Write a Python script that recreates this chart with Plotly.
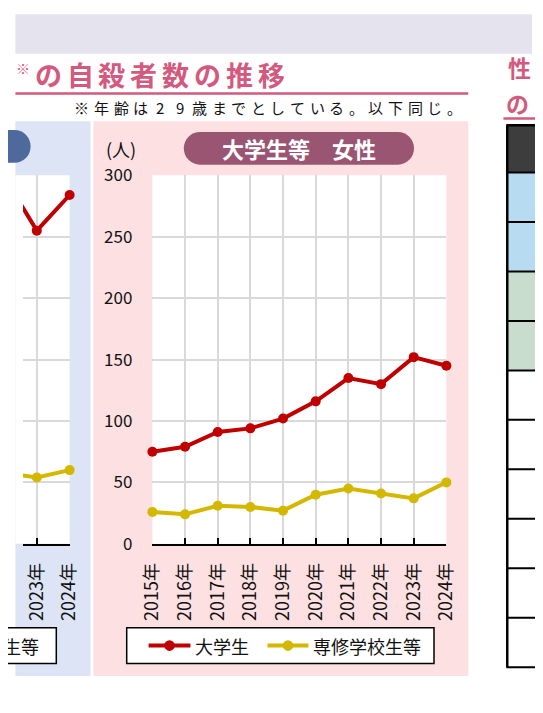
import plotly.graph_objects as go

# the page puts the figure 8px in from the top-left corner of the window
OFF = 8
W, H = 543 - OFF, 713 - OFF

# data
years = ["2015年", "2016年", "2017年", "2018年", "2019年",
         "2020年", "2021年", "2022年", "2023年", "2024年"]
univ_female = [75, 79, 91, 94, 102, 116, 135, 130, 152, 145]
vocational_female = [26, 24, 31, 30, 27, 40, 45, 41, 37, 50]

# the male panel is cut off on the left, only its last years show
years_male = ["2022年", "2023年", "2024年"]
univ_male = [299, 255, 284]
vocational_male = [58, 54, 60]

y_ticks = [0, 50, 100, 150, 200, 250, 300]
series_names = ["大学生", "専修学校生等"]

RED = "#c00000"
YELLOW = "#d4b800"
PINK = "#d35a7e"
GRID = "#d9d9d9"
FONT = "Noto Sans CJK JP"


# window pixels -> paper coords
def px(x):
    return (x - OFF) / W


def py(y):
    return 1 - (y - OFF) / H


def pill_path(x0, x1, y0, y1):
    # rounded bar
    r = (y1 - y0) / 2
    yc = (y0 + y1) / 2
    k = 0.5523 * r
    pts = [
        ("M", [(x0 + r, y0)]),
        ("L", [(x1 - r, y0)]),
        ("C", [(x1 - r + k, y0), (x1, yc - k), (x1, yc)]),
        ("C", [(x1, yc + k), (x1 - r + k, y1), (x1 - r, y1)]),
        ("L", [(x0 + r, y1)]),
        ("C", [(x0 + r - k, y1), (x0, yc + k), (x0, yc)]),
        ("C", [(x0, yc - k), (x0 + r - k, y0), (x0 + r, y0)]),
    ]
    s = ""
    for cmd, pp in pts:
        s += cmd + " ".join(f"{px(a):.5f},{py(b):.5f}" for a, b in pp) + " "
    return s + "Z"


fig = go.Figure()

# female panel
for vals, name, col in [(univ_female, series_names[0], RED),
                        (vocational_female, series_names[1], YELLOW)]:
    fig.add_trace(go.Scatter(x=years, y=vals, name=name, mode="lines+markers",
                             line=dict(color=col, width=4), marker=dict(size=10, color=col),
                             cliponaxis=False, xaxis="x", yaxis="y"))

# male panel (partial)
for vals, col in [(univ_male, RED), (vocational_male, YELLOW)]:
    fig.add_trace(go.Scatter(x=years_male, y=vals, mode="lines+markers",
                             line=dict(color=col, width=4), marker=dict(size=10, color=col),
                             cliponaxis=False, xaxis="x2", yaxis="y2"))

xaxis_style = dict(type="category", showgrid=True, gridcolor=GRID, gridwidth=1.5,
                   showline=True, linecolor="black", linewidth=2,
                   ticks="inside", ticklen=6, tickwidth=1.5, tickcolor="black",
                   tickangle=-90, ticklabelstandoff=10,
                   tickfont=dict(size=18, color="#111", family=FONT))
yaxis_style = dict(range=[0, 300], tickvals=y_ticks, showgrid=True, gridcolor=GRID,
                   gridwidth=1.5, zeroline=False, showline=False, ticks="",
                   tickfont=dict(size=17, color="#111", family=FONT))

fig.update_layout(
    xaxis=dict(domain=[px(144), px(453)], range=[0, 9], anchor="y", **xaxis_style),
    yaxis=dict(domain=[py(549), py(167)], anchor="x", ticklabelstandoff=19, **yaxis_style),
    xaxis2=dict(domain=[px(OFF), px(57)], range=[0.348 + (OFF / 34.5), 2], anchor="y2", **xaxis_style),
    yaxis2=dict(domain=[py(549), py(167)], anchor="x2", showticklabels=False, **yaxis_style),
)

shapes = []


def rect(x0, y0, x1, y1, fill, line_color=None, lw=0):
    shapes.append(dict(type="rect", xref="paper", yref="paper", layer="below",
                       x0=px(x0), x1=px(x1), y0=py(y1), y1=py(y0), fillcolor=fill,
                       line=dict(color=line_color or fill, width=lw)))


def line(x0, y0, x1, y1, color, lw, layer="above"):
    shapes.append(dict(type="line", xref="paper", yref="paper", layer=layer,
                       x0=px(x0), x1=px(x1), y0=py(y0), y1=py(y1),
                       line=dict(color=color, width=lw)))


def dot(x, y, r, color):
    shapes.append(dict(type="circle", xref="paper", yref="paper",
                       x0=px(x - r), x1=px(x + r), y0=py(y + r), y1=py(y - r),
                       fillcolor=color, line=dict(width=0)))


# page furniture
rect(0, 0, 543, 41, "#e4e3ee")
rect(0, 111, 79, 686, "#dce4f6")
rect(82, 111, 476, 686, "#fde0e1")
rect(144, 167, 453, 549, "white")
rect(0, 167, 57, 549, "white")
line(0, 82, 476, 82, PINK, 2.5)
line(513, 108, 550, 108, PINK, 2.5)

# title pills
shapes.append(dict(type="path", xref="paper", yref="paper", layer="below",
                   path=pill_path(-120, 16, 120, 154), fillcolor="#4e6a9c", line=dict(width=0)))
shapes.append(dict(type="path", xref="paper", yref="paper", layer="below",
                   path=pill_path(177, 419, 122, 156), fillcolor="#9a5573", line=dict(width=0)))

# legend boxes
rect(-60, 636, 43, 673, "white", "black", 1.5)
rect(117, 636, 440, 673, "white", "black", 1.5)
line(140, 654.5, 184, 654.5, RED, 4)
dot(162, 654.5, 5.5, RED)
line(265, 654.5, 308, 654.5, YELLOW, 4)
dot(286.5, 654.5, 5.5, YELLOW)

# table on the right (cut off)
row_top = 164
row_h = (677 - 164) / 10
rect(516, 115, 550, 164, "#3d3d3d")
row_fills = ["#b7dbf0", "#b7dbf0", "#c8ddcd", "#c8ddcd"] + ["white"] * 6
for i, c in enumerate(row_fills):
    rect(516, row_top + i * row_h, 550, row_top + (i + 1) * row_h, c)
for i in range(11):
    line(516, row_top + i * row_h, 550, row_top + i * row_h, "black", 2)
line(516, 115, 550, 115, "black", 2.5)
line(517, 115, 517, 677, "black", 2.5)

fig.update_layout(shapes=shapes)

annotations = []


def text(s, x, y, size, color="#111", bold=False, xanchor="center"):
    annotations.append(dict(text=f"<b>{s}</b>" if bold else s, x=px(x), y=py(y),
                            xref="paper", yref="paper", xanchor=xanchor, yanchor="middle",
                            showarrow=False, font=dict(size=size, color=color, family=FONT)))


# heading, letter-spaced
text("※", 8, 56, 14, PINK, True)
for i, ch in enumerate("の自殺者数の推移"):
    text(ch, 34.5 + i * 33.5, 62, 27, PINK, True)

note = "※年齢は29歳までとしている。以下同じ。"
for i, ch in enumerate(note):
    text(ch, 70 + i * 20.6, 97, 15, "#111")

text("性", 530, 55, 23, PINK, True)
text("の", 528, 92, 23, PINK, True)

text("(人)", 111, 140, 18)
text("大学生等　女性", 298, 139, 22, "white", True)

# legend labels
text(series_names[0], 187, 655, 18, xanchor="left")
text(series_names[1], 311, 655, 18, xanchor="left")
text(series_names[1], 27, 655, 18, xanchor="right")

fig.update_layout(annotations=annotations)

fig.update_layout(
    width=W, height=H, autosize=False,
    margin=dict(l=0, r=0, t=0, b=0),
    paper_bgcolor="white", plot_bgcolor="white",
    font=dict(family=FONT, color="#111"),
    showlegend=False,
)

fig.write_html("out.html")
